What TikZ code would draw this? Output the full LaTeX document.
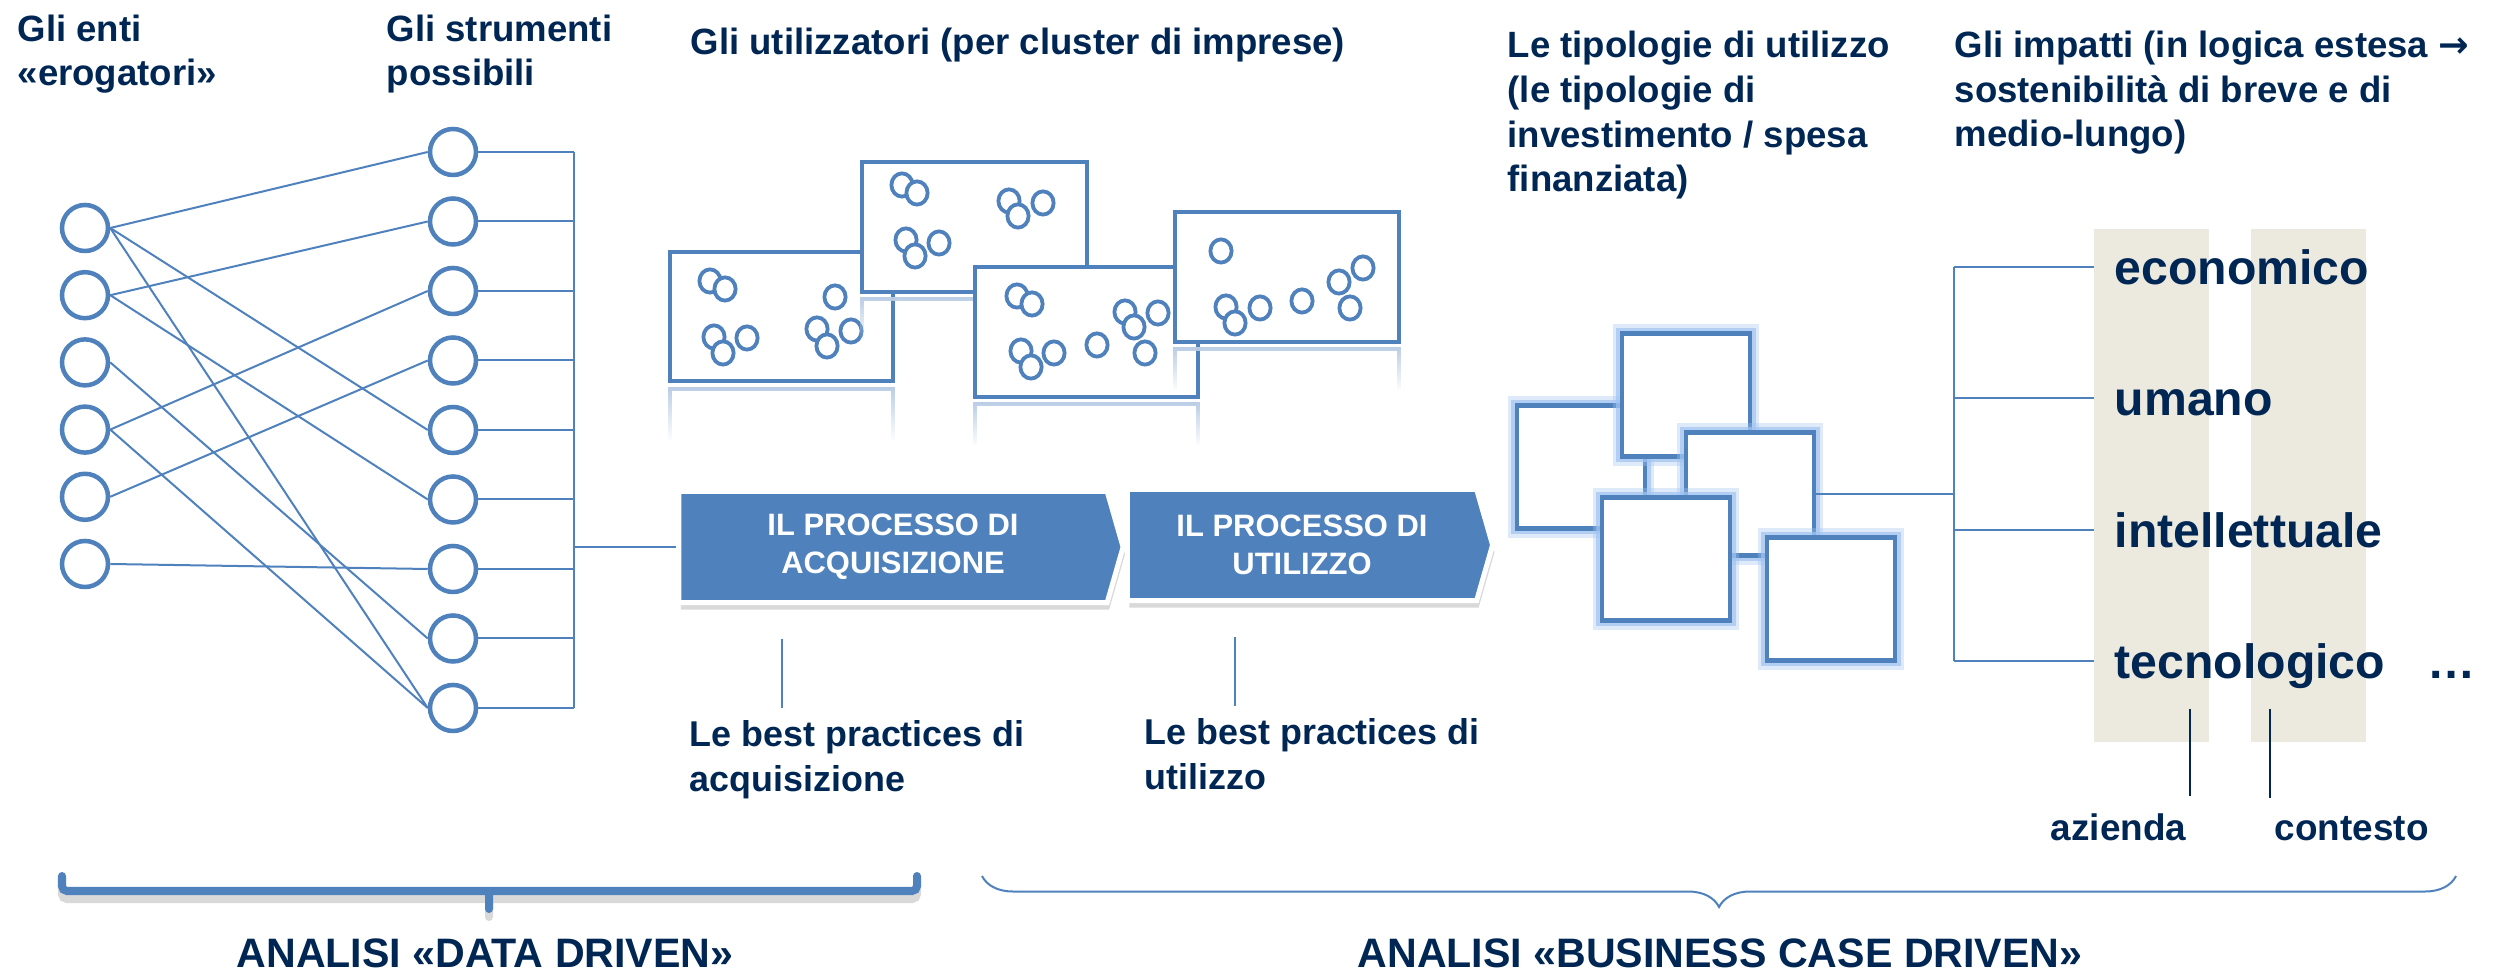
\documentclass[tikz,border=0pt]{standalone}
\usepackage{fontspec}
\setmainfont{Liberation Sans}
\newfontfamily\arrowfont{DejaVu Sans}
\usetikzlibrary{shapes.symbols,shadows,fadings,decorations.pathreplacing}

\definecolor{ctblue}{RGB}{79,129,189}
\definecolor{ctnavy}{RGB}{0,38,84}
\definecolor{ctbeige}{RGB}{236,233,223}
\definecolor{ctglow}{RGB}{160,195,240}

\tikzset{
  heading/.style={anchor=base west, inner sep=0pt, align=left, text=ctnavy,
    font=\bfseries\fontsize{10.4}{12.7}\selectfont},
  circnode/.style={circle, draw=ctblue, line width=0.45mm, fill=white,
    minimum size=4.6mm, inner sep=0pt},
  link/.style={draw=ctblue, line width=0.2mm},
  cluster/.style={draw=ctblue, line width=0.45mm, fill=white},
  reflect/.style={draw=ctblue!40, line width=0.45mm, path fading=south},
  dot/.style={draw=ctblue, line width=0.38mm, fill=white},
  procarrow/.style={signal, signal to=east, signal from=nowhere,
    signal pointer angle=148, fill=ctblue, draw=white, line width=0.5mm,
    minimum height=11.1mm, text=white, align=center,
    font=\bfseries\fontsize{8.8}{10.8}\selectfont,
    drop shadow={shadow xshift=0.2mm, shadow yshift=-0.7mm, opacity=0.3}},
  practice/.style={anchor=base west, inner xsep=0pt, inner ysep=1.2mm,
    align=left, text=ctnavy, font=\bfseries\fontsize{10.2}{12.8}\selectfont},
  usebox/.style={rectangle, draw=ctblue, line width=0.45mm, fill=white,
    minimum width=12.8mm, minimum height=12.3mm,
    preaction={draw=ctglow, line width=1.8mm, opacity=0.35},
    preaction={draw=ctglow, line width=1.1mm, opacity=0.7}},
  impact/.style={anchor=base west, inner xsep=2mm, inner ysep=0pt,
    text height=3.6mm, text depth=0pt, text=ctnavy,
    font=\bfseries\fontsize{13.7}{16}\selectfont},
  sidelabel/.style={anchor=base west, inner xsep=0pt, inner ysep=1.8mm,
    text=ctnavy, font=\bfseries\fontsize{10.5}{12.6}\selectfont},
  navyline/.style={draw=ctnavy, line width=0.2mm},
  analysis/.style={anchor=base, inner sep=0pt, text=ctnavy,
    font=\bfseries\fontsize{11.7}{14}\selectfont},
  thickbrace/.style={draw=ctblue, line width=0.8mm, rounded corners=0.5mm,
    line cap=round},
}

\begin{document}
\begin{tikzpicture}[x=0.01cm, y=-0.01cm]
\useasboundingbox (0,0) rectangle (2510,974);

% titoli (ancorati all'ultima riga)
\node[heading] (hEnti) at (17,86) {Gli enti\\«erogatori»};
\node[heading] (hStrum) at (386,86) {Gli strumenti\\possibili};
\node[heading] (hUtil) at (690,55) {Gli utilizzatori (per cluster di imprese)};
\node[heading] (hTipo) at (1507,192) {Le tipologie di utilizzo\\(le tipologie di\\investimento / spesa\\finanziata)};
\node[heading] (hImp) at (1954,147) {Gli impatti (in logica estesa {\arrowfont →}\\sostenibilità di breve e di\\medio-lungo)};

% enti e strumenti
\foreach \i [evaluate=\i as \yy using 228+67.2*(\i-1)] in {1,...,6}
  \node[circnode] (e\i) at (85,\yy) {};
\foreach \j [evaluate=\j as \yy using 152+69.5*(\j-1)] in {1,...,9}
  \node[circnode] (t\j) at (453,\yy) {};
\foreach \a/\b in {1/1,1/5,1/9,2/2,2/6,3/8,4/3,4/9,5/4,6/7}
  \draw[link] (e\a.east) -- (t\b.west);

\coordinate (bus) at (574,547);
\foreach \j in {1,...,9}
  \draw[link] (t\j.east) -- (t\j.east -| bus);
\draw[link] (t1.east -| bus) -- (t9.east -| bus);

% processi
\node[procarrow, minimum width=44.4mm] (acq) at (893,547) {IL PROCESSO DI\\ACQUISIZIONE};
\node[procarrow, minimum width=36.5mm] (uti) at (1302,545) {IL PROCESSO DI\\UTILIZZO};
\draw[link] (bus) -- (acq.west);

\node[practice] (bpAcq) at (689,792) {Le best practices di\\acquisizione};
\node[practice] (bpUti) at (1144,790) {Le best practices di\\utilizzo};
\coordinate (bpAcqTop) at (782,639);
\coordinate (bpUtiTop) at (1235,637);
\draw[link] (bpAcqTop) -- (bpAcqTop |- bpAcq.north);
\draw[link] (bpUtiTop) -- (bpUtiTop |- bpUti.north);

% cluster di imprese
\draw[cluster] (670,252) rectangle (893,381);
\draw[reflect] (670,440) -- (670,389) -- (893,389) -- (893,440);
\foreach \x/\y in {710/281,725/289,835/297,714/337,747/338,723/353,817/329,851/331,827/346}
  \draw[dot] (\x,\y) ellipse[x radius=1.06mm, y radius=1.16mm];

\draw[cluster] (862,162) rectangle (1087,292);
\draw[reflect] (862,340) -- (862,299) -- (1087,299) -- (1087,340);
\foreach \x/\y in {902/185,917/193,1009/201,1043/203,1018/216,906/240,939/243,915/256}
  \draw[dot] (\x,\y) ellipse[x radius=1.06mm, y radius=1.16mm];

\draw[cluster] (975,267) rectangle (1198,397);
\draw[reflect] (975,445) -- (975,404) -- (1198,404) -- (1198,445);
\foreach \x/\y in {1017/296,1032/304,1125/312,1158/313,1134/327,1021/351,1054/353,1031/367,1097/345,1145/353}
  \draw[dot] (\x,\y) ellipse[x radius=1.06mm, y radius=1.16mm];

\draw[cluster] (1175,212) rectangle (1399,342);
\draw[reflect] (1175,390) -- (1175,349) -- (1399,349) -- (1399,390);
\foreach \x/\y in {1221/251,1226/307,1260/308,1235/323,1302/301,1339/282,1363/268,1350/308}
  \draw[dot] (\x,\y) ellipse[x radius=1.06mm, y radius=1.16mm];

% tipologie di utilizzo
\node[usebox] (s1) at (1581,467) {};
\node[usebox] (s2) at (1686,395) {};
\node[usebox] (s3) at (1750,494) {};
\node[usebox] (s4) at (1666,559) {};
\node[usebox] (s5) at (1831,599) {};

% impatti
\fill[ctbeige] (2094,229) rectangle (2209,742);
\fill[ctbeige] (2251,229) rectangle (2366,742);
\node[impact] (econ) at (2094,285) {economico};
\node[impact] (uman) at (2094,416) {umano};
\node[impact] (intel) at (2094,548) {intellettuale};
\node[impact] (tecn) at (2094,679) {tecnologico};
\node[impact] (more) at (2407,679) {…};
\coordinate (impJn) at (1954,494);
\draw[link] (s3.east) -- (impJn);
\draw[link] (econ.west -| impJn) -- (tecn.west -| impJn);
\foreach \w in {econ,uman,intel,tecn}
  \draw[link] (\w.west -| impJn) -- (\w.west);

\node[sidelabel] (azi) at (2050,841) {azienda};
\node[sidelabel] (ctx) at (2274,841) {contesto};
\coordinate (aziTop) at (2190,709);
\coordinate (ctxTop) at (2270,709);
\draw[navyline] (aziTop) -- (aziTop |- azi.north);
\draw[navyline] (ctxTop) -- (ctxTop |- ctx.north);

% analisi
\draw[thickbrace, draw=black!15, transform canvas={yshift=-0.8mm}]
  (62,876) |- (917,891) -- (917,876) (489,891) -- (489,909);
\draw[thickbrace] (62,876) |- (917,891) -- (917,876) (489,891) -- (489,909);
\draw[link, decorate, decoration={brace, mirror, amplitude=3.1mm}] (982,876) -- (2456,876);
\node[analysis] (dataDriven) at (485,968) {ANALISI «DATA DRIVEN»};
\node[analysis] (bizDriven) at (1720,968) {ANALISI «BUSINESS CASE DRIVEN»};
\end{tikzpicture}
\end{document}
